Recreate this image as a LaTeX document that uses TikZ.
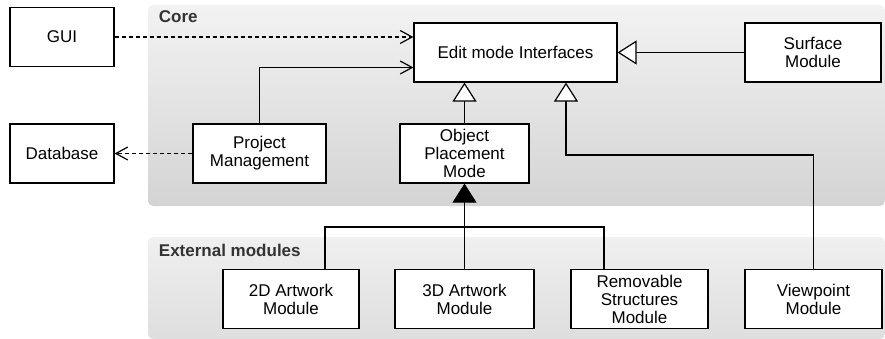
\documentclass[tikz,border=0pt]{standalone}
\usepackage{fontspec}
\setmainfont{Liberation Sans}
\usetikzlibrary{arrows.meta}
\begin{document}
\begin{tikzpicture}[x=1pt,y=-1pt,line width=1.2pt,
  font=\fontsize{17}{18}\selectfont,
  box/.style={draw,fill=white,align=center,inner sep=0pt,minimum width=#1,minimum height=59pt},
  box/.default=104pt,
  uses/.style={-{Straight Barb[length=12pt,width=13pt,line width=1.2pt]}},
  dep/.style={uses,dash pattern=on 4pt off 3pt},
  realize/.style={-{Triangle[open,length=19pt,width=24pt,fill=white]}},
  compose/.style={-{Triangle[length=19pt,width=24pt]}}]
  \useasboundingbox (0,0) rectangle (885,339);
  % core panel (shaded)
  \shade[top color=black!5,bottom color=black!17,rounded corners=5pt] (148,5) rectangle (885,206);
  \node[anchor=west,font=\fontsize{17}{18}\selectfont\bfseries,text=black!80] (core) at (155,17) {Core};
  % external modules panel (shaded)
  \shade[top color=black!6,bottom color=black!13,rounded corners=5pt] (148,237) rectangle (885,339);
  \node[anchor=west,font=\fontsize{17}{18}\selectfont\bfseries,text=black!80] (ext) at (155,250) {External modules};
  % boxes outside the panels
  \node[box] (gui) at (62,37) {GUI};
  \node[box] (db) at (62,153.5) {Database};
  % core boxes
  \node[box=203pt] (edit) at (515.5,52.5) {Edit mode Interfaces};
  \node[box=136pt] (surf) at (813,52.5) {Surface\\Module};
  \node[box=133pt] (pm) at (259.5,153.5) {Project\\Management};
  \node[box=129pt] (opm) at (464.5,153.5) {Object\\Placement\\Mode};
  % external boxes
  \node[box=136pt] (a2d) at (291,299) {2D Artwork\\Module};
  \node[box=139pt] (a3d) at (464.5,299) {3D Artwork\\Module};
  \node[box=137pt] (rs) at (639.5,299) {Removable\\Structures\\Module};
  \node[box=137pt] (vp) at (813.5,299) {Viewpoint\\Module};
  % dependencies
  \draw[dep] (gui.east) -- (gui.east -| edit.west);
  \draw[dep] (pm.west) -- (db.east);
  \draw[uses] (pm.north) |- ([yshift=-15pt]edit.west);
  % realizations
  \draw[realize] (opm.north) -- (opm.north |- edit.south);
  \draw[realize] (surf.west) -- (edit.east);
  \coordinate (vpbend) at (566,155);
  \draw[realize] (vp.north) |- (vpbend) -- (vpbend |- edit.south);
  % placement modules
  \coordinate (jl) at (325,227);
  \coordinate (jr) at (604,227);
  \draw (jl |- a2d.north) -- (jl) -- (jr) -- (jr |- rs.north);
  \draw[compose] (a3d.north) -- (opm.south);
\end{tikzpicture}
\end{document}
